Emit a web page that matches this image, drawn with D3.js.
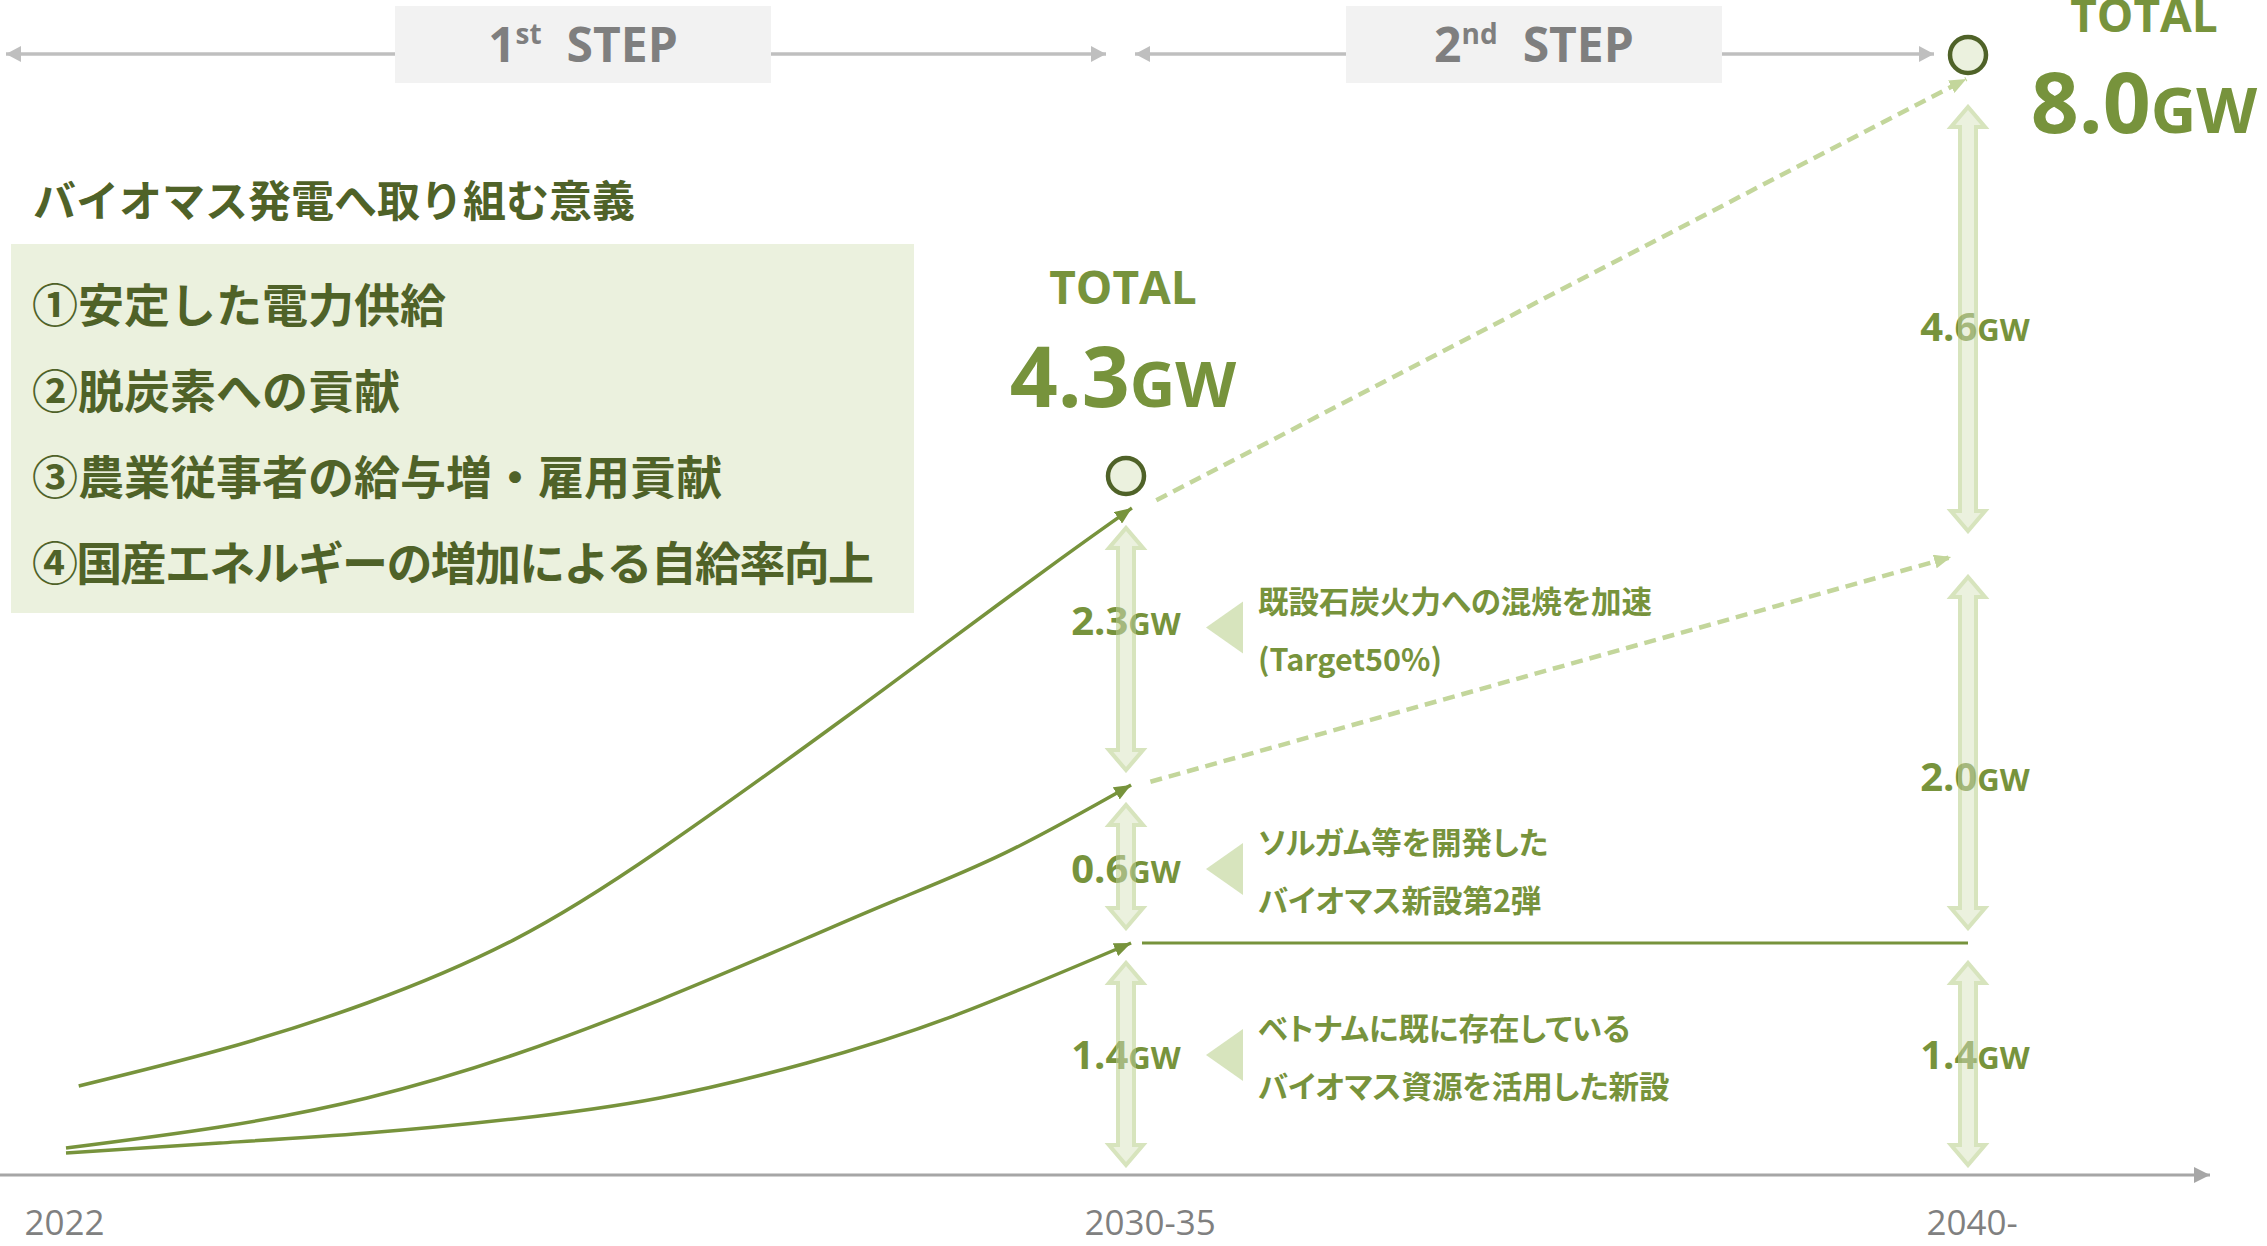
<!DOCTYPE html>
<html>
<head>
<meta charset="utf-8">
<script src="https://cdn.jsdelivr.net/npm/d3@7/dist/d3.min.js"></script>
<style>
  html, body { margin: 0; padding: 0; background: #fff; }
  svg { display: block; }
  text { font-family: 'Open Sans', 'Noto Sans', sans-serif; }
  .jp { font-family: 'Noto Sans CJK JP', 'Noto Sans', sans-serif; font-weight: 700; }
  .palt { font-feature-settings: 'palt'; }
</style>
</head>
<body>
<svg id="chart" width="2267" height="1246"></svg>
<script>
'use strict';

// periods on the x axis
var periods = ['2022', '2030-35', '2040-'];
var steps = [{ num: '1', sup: 'st' }, { num: '2', sup: 'nd' }];

// capacity blocks (GW), bottom to top
var capacity2030 = [1.4, 0.6, 2.3];
var capacity2040 = [1.4, 2.0, 4.6];

// growth curves 2022 -> 2030-35, [period position, GW]
var existingPath = [[0, 0.133], [0.145, 0.193], [0.284, 0.253], [0.422, 0.338], [0.560, 0.465], [0.699, 0.676], [0.837, 0.959], [1.006, 1.40]];
var sorghumPath = [[0, 0.163], [0.145, 0.290], [0.284, 0.465], [0.422, 0.724], [0.560, 1.056], [0.699, 1.419], [0.783, 1.563], [0.886, 1.742], [1.006, 2.0]];
var cofiringPath = [[0.012, 0.537], [0.145, 0.754], [0.284, 1.038], [0.422, 1.411], [0.560, 1.753], [0.732, 2.399], [0.834, 2.890], [0.937, 3.382], [1.007, 3.944]];

// 2030-35 -> 2040-
var existingFlat = [[1.019, 1.4], [2, 1.4]];
var lowerProjection = [[1.029, 2.02], [1.98, 3.4]];
var upperProjection = [[1.036, 4.03], [1.998, 7.79]];

var heading = 'バイオマス発電へ取り組む意義';
var goals = ['①安定した電力供給', '②脱炭素への貢献', '③農業従事者の給与増・雇用貢献', '④国産エネルギーの増加による自給率向上'];
var notes = [
  ['ベトナムに既に存在している', 'バイオマス資源を活用した新設'],
  ['ソルガム等を開発した', 'バイオマス新設第2弾'],
  ['既設石炭火力への混焼を加速', '(Target50%)']
];

var GREEN = '#77933c';
var DARK = '#4f6228';
var PALE = '#ebf1de';
var LIGHT = '#d7e4bd';
var DASH = '#c3d69b';

// small layout nudges for the block labels / notes (px)
var labelNudge = [[-5, 4, -11], [-5, 26, 20]];
var noteNudge = [-4, 5, -3];

var svg = d3.select('#chart');

function cumulate(arr) {
  var s = 0;
  return arr.map(function (v) { s = Math.round((s + v) * 10) / 10; return s; });
}
var cum2030 = cumulate(capacity2030);
var cum2040 = cumulate(capacity2040);
var levels = Array.from(new Set([0].concat(cum2030, cum2040)))
  .sort(function (a, b) { return a - b; });

// schematic (not proportional) vertical scale: one stop per level
var x = d3.scaleLinear().domain([0, 1, 2]).range([66, 1126, 1968]);
var y = d3.scaleLinear().domain(levels).range([1175, 943, 785, 557, 476, 55]);

var defs = svg.append('defs');
function marker(id, color, len, half) {
  defs.append('marker')
    .attr('id', id)
    .attr('markerUnits', 'userSpaceOnUse')
    .attr('markerWidth', len)
    .attr('markerHeight', half * 2)
    .attr('refX', len)
    .attr('refY', half)
    .attr('orient', 'auto-start-reverse')
    .append('path')
    .attr('d', 'M0,0L' + len + ',' + half + 'L0,' + (half * 2) + 'Z')
    .attr('fill', color);
}
marker('a-curve', GREEN, 17, 7);
marker('a-dash', DASH, 17, 7);
marker('a-axis', '#a6a6a6', 16, 8);
marker('a-step', '#bfbfbf', 15, 8);

// step bars
var stepG = svg.append('g');
steps.forEach(function (s, i) {
  var x0 = i === 0 ? x(0) - 60 : x(i) + 9;
  var x1 = x(i + 1) - 20 - 14 * i;
  stepG.append('line')
    .attr('x1', x0).attr('x2', x1)
    .attr('y1', 54).attr('y2', 54)
    .attr('stroke', '#bfbfbf')
    .attr('stroke-width', 3.5)
    .attr('marker-start', 'url(#a-step)')
    .attr('marker-end', 'url(#a-step)');
  var cx = (x(i) + x(i + 1)) / 2 - 13;
  stepG.append('rect')
    .attr('x', cx - 188).attr('y', 6)
    .attr('width', 376).attr('height', 77)
    .attr('fill', '#f2f2f2');
  var t = stepG.append('text')
    .attr('x', cx).attr('y', 62)
    .attr('text-anchor', 'middle')
    .attr('font-size', 48)
    .attr('font-weight', 700)
    .attr('fill', '#7f7f7f');
  t.append('tspan').text(s.num);
  t.append('tspan').attr('font-size', 28).attr('dy', -18).text(s.sup);
  t.append('tspan').attr('dy', 18).text('\u00a0 STEP');
});

// goals panel
svg.append('text')
  .attr('class', 'jp')
  .attr('x', 33).attr('y', 198)
  .attr('dominant-baseline', 'central')
  .attr('font-size', 43)
  .attr('fill', DARK)
  .text(heading);

svg.append('rect')
  .attr('x', 11).attr('y', 244)
  .attr('width', 903).attr('height', 369)
  .attr('fill', PALE);

svg.append('g')
  .selectAll('text')
  .data(goals)
  .enter()
  .append('text')
  .attr('class', 'jp')
  .attr('x', 32)
  .attr('y', function (d, i) { return 302 + i * 86; })
  .attr('dominant-baseline', 'central')
  .attr('font-size', 46)
  .attr('letter-spacing', function (d) { return d.length > 15 ? -1.7 : 0; })
  .attr('fill', DARK)
  .text(function (d) { return d; });

// x axis
svg.append('line')
  .attr('x1', 0).attr('x2', 2210)
  .attr('y1', y(0)).attr('y2', y(0))
  .attr('stroke', '#a6a6a6')
  .attr('stroke-width', 3)
  .attr('marker-end', 'url(#a-axis)');

var axisG = svg.append('g')
  .attr('transform', 'translate(0,' + y(0) + ')')
  .call(d3.axisBottom(x).tickValues([0, 1, 2]).tickSize(0).tickFormat(function (i) { return periods[i]; }));
axisG.select('.domain').remove();
axisG.selectAll('text')
  .attr('x', -42)
  .attr('y', 60)
  .attr('dy', 0)
  .attr('text-anchor', 'start')
  .attr('font-family', "'Open Sans', sans-serif")
  .attr('font-size', 35)
  .attr('fill', '#808080');

// lines
var line = d3.line()
  .x(function (d) { return x(d[0]); })
  .y(function (d) { return y(d[1]); })
  .curve(d3.curveNatural);

var lineG = svg.append('g').attr('fill', 'none');
lineG.selectAll('path.growth')
  .data([existingPath, sorghumPath, cofiringPath])
  .enter()
  .append('path')
  .attr('class', 'growth')
  .attr('d', line)
  .attr('stroke', GREEN)
  .attr('stroke-width', 3.5)
  .attr('marker-end', 'url(#a-curve)');

lineG.append('path')
  .attr('d', line(existingFlat))
  .attr('stroke', GREEN)
  .attr('stroke-width', 3);

lineG.selectAll('path.proj')
  .data([lowerProjection, upperProjection])
  .enter()
  .append('path')
  .attr('class', 'proj')
  .attr('d', line)
  .attr('stroke', DASH)
  .attr('stroke-width', 4.5)
  .attr('stroke-dasharray', '12 7')
  .attr('marker-end', 'url(#a-dash)');

// capacity blocks: double arrows + labels
function blocks(values, cum, col) {
  return values.map(function (v, i) {
    var lo = i === 0 ? 0 : cum[i - 1];
    var hi = cum[i];
    var top = i === values.length - 1;
    var mid = (y(hi) + y(lo)) / 2;
    return {
      value: v, col: col, idx: i,
      yTop: y(hi) + (top ? 52 : 20),
      yBot: y(lo) - (lo === 0 ? 10 : (top && col === 2 ? 26 : 15)),
      mid: mid,
      labelY: mid + labelNudge[col - 1][i]
    };
  });
}
var allBlocks = blocks(capacity2030, cum2030, 1).concat(blocks(capacity2040, cum2040, 2));

function doubleArrow(cx, a, b) {
  var hs = 8, hh = 17, hl = 20;
  return 'M' + cx + ',' + a +
    'L' + (cx + hh) + ',' + (a + hl) + 'L' + (cx + hs) + ',' + (a + hl) +
    'L' + (cx + hs) + ',' + (b - hl) + 'L' + (cx + hh) + ',' + (b - hl) +
    'L' + cx + ',' + b +
    'L' + (cx - hh) + ',' + (b - hl) + 'L' + (cx - hs) + ',' + (b - hl) +
    'L' + (cx - hs) + ',' + (a + hl) + 'L' + (cx - hh) + ',' + (a + hl) + 'Z';
}

function drawArrows(opacity) {
  svg.append('g')
    .attr('opacity', opacity)
    .selectAll('path')
    .data(allBlocks)
    .enter()
    .append('path')
    .attr('d', function (d) { return doubleArrow(x(d.col), d.yTop, d.yBot); })
    .attr('fill', PALE)
    .attr('stroke', LIGHT)
    .attr('stroke-width', 4);
}
drawArrows(1);

svg.append('g')
  .selectAll('text')
  .data(allBlocks)
  .enter()
  .append('text')
  .attr('x', function (d) { return x(d.col) + (d.col === 2 ? 7 : 0); })
  .attr('y', function (d) { return d.labelY + 15; })
  .attr('text-anchor', 'middle')
  .attr('font-weight', 700)
  .attr('fill', GREEN)
  .each(function (d) {
    var t = d3.select(this);
    t.append('tspan').attr('font-size', 40).text(d3.format('.1f')(d.value));
    t.append('tspan').attr('font-size', 31).text('GW');
  });

// the shafts run across the labels in the original
drawArrows(0.4);

// notes for the 2030-35 blocks
var noteG = svg.append('g');
allBlocks.filter(function (d) { return d.col === 1; }).forEach(function (d) {
  var tx = x(d.col) + 80;
  var ny = d.mid + noteNudge[d.idx];
  noteG.append('path')
    .attr('d', 'M' + tx + ',' + ny + 'L' + (tx + 37) + ',' + (ny - 26) + 'L' + (tx + 37) + ',' + (ny + 26) + 'Z')
    .attr('fill', LIGHT);
  noteG.selectAll(null)
    .data(notes[d.idx])
    .enter()
    .append('text')
    .attr('class', 'jp palt')
    .attr('x', tx + 52)
    .attr('y', function (s, k) { return ny + (k === 0 ? -28 : 30); })
    .attr('dominant-baseline', 'central')
    .attr('font-size', 30.5)
    .attr('fill', GREEN)
    .text(function (s) { return s; });
});

// totals
var totals = [cum2030[cum2030.length - 1], cum2040[cum2040.length - 1]];
svg.append('g')
  .selectAll('circle')
  .data(totals)
  .enter()
  .append('circle')
  .attr('cx', function (d, i) { return x(i + 1); })
  .attr('cy', function (d) { return y(d); })
  .attr('r', 18)
  .attr('fill', PALE)
  .attr('stroke', DARK)
  .attr('stroke-width', 4.5);

var totalLayout = [{ dx: -3, dyT: -172, dyV: -69 }, { dx: 176, dyT: -23, dyV: 78 }];
totals.forEach(function (v, i) {
  var cx = x(i + 1) + totalLayout[i].dx;
  var cy = y(v);
  svg.append('text')
    .attr('x', cx).attr('y', cy + totalLayout[i].dyT)
    .attr('text-anchor', 'middle')
    .attr('font-size', 46)
    .attr('font-weight', 700)
    .attr('fill', GREEN)
    .text('TOTAL');
  var t = svg.append('text')
    .attr('x', cx).attr('y', cy + totalLayout[i].dyV)
    .attr('text-anchor', 'middle')
    .attr('font-weight', 700)
    .attr('fill', GREEN);
  t.append('tspan').attr('font-size', 84).text(d3.format('.1f')(v));
  t.append('tspan').attr('font-size', 63).text('GW');
});
</script>
</body>
</html>
